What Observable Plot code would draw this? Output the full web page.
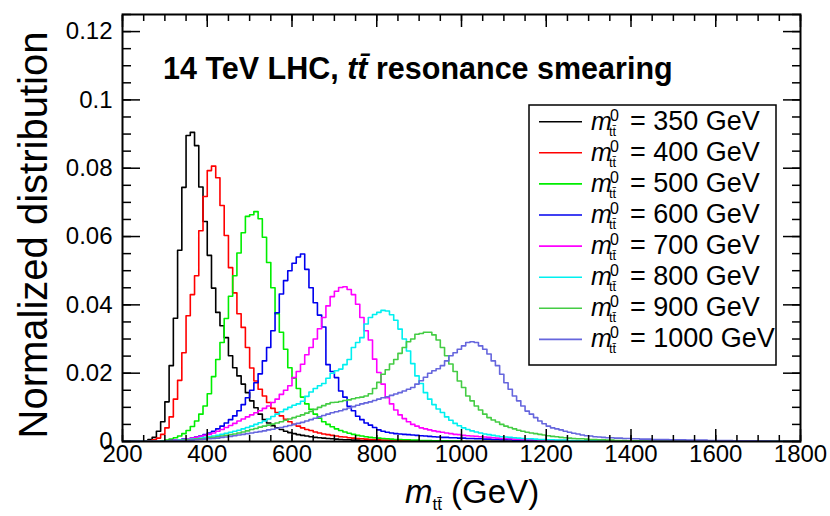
<!DOCTYPE html>
<html><head><meta charset="utf-8">
<script src="https://cdn.jsdelivr.net/npm/d3@7"></script>
<script src="https://cdn.jsdelivr.net/npm/@observablehq/plot@0.6"></script>
<style>
body{margin:0;background:#fff;}
#chart{width:830px;height:516px;}
</style></head><body><div id="chart"></div>
<script>
// ---- data: normalized histograms, 10 GeV bins, values per bin starting at startXXX ----
const binWidth = 10;
const masses = [350, 400, 500, 600, 700, 800, 900, 1000];
const colors = ["#000000", "#ff0000", "#00ee00", "#0000ee", "#ff00ff", "#00f0f0", "#44cc44", "#6666dd"];
const xTicks = [200, 400, 600, 800, 1000, 1200, 1400, 1600, 1800];
const yTicks = [0, 0.02, 0.04, 0.06, 0.08, 0.1, 0.12];
const yTickLabels = ["0", "0.02", "0.04", "0.06", "0.08", "0.1", "0.12"];

const start350 = 250;
const h350 = [0.0002,0.0006,0.0012,0.0030,0.0058,0.0116,0.0222,0.0361,0.0560,0.0744,
  0.0896,0.0905,0.0866,0.0745,0.0644,0.0545,0.0449,0.0378,0.0339,0.0304,
  0.0251,0.0216,0.0192,0.0168,0.0143,0.0119,0.0099,0.0080,0.0064,0.0054,
  0.0046,0.0040,0.0035,0.0030,0.0026,0.0023,0.0020,0.0018,0.0016,0.0014,
  0.0012,0.0011,0.0010,0.0009,0.0008,0.0007,0.0006,0.0005,0.0005,0.0004,
  0.0004,0.0003,0.0003,0.0003,0.0002,0.0002,0.0002,0.0001,0.0001,0.0001];

const start400 = 260;
const h400 = [0.0002,0.0005,0.0010,0.0021,0.0040,0.0072,0.0124,0.0179,0.0260,0.0368,
  0.0430,0.0485,0.0617,0.0717,0.0793,0.0806,0.0772,0.0691,0.0603,0.0509,
  0.0435,0.0374,0.0334,0.0275,0.0215,0.0177,0.0153,0.0133,0.0114,0.0097,
  0.0085,0.0075,0.0065,0.0058,0.0050,0.0045,0.0040,0.0035,0.0032,0.0028,
  0.0025,0.0022,0.0020,0.0018,0.0016,0.0014,0.0013,0.0011,0.0010,0.0009,
  0.0008,0.0007,0.0006,0.0006,0.0005,0.0004,0.0004,0.0003,0.0003,0.0003,
  0.0002,0.0002,0.0002,0.0001,0.0001];

const start500 = 290;
const h500 = [0.0002,0.0004,0.0007,0.0011,0.0016,0.0023,0.0032,0.0044,0.0060,0.0080,
  0.0104,0.0140,0.0190,0.0240,0.0290,0.0360,0.0425,0.0485,0.0552,0.0611,
  0.0659,0.0664,0.0673,0.0652,0.0598,0.0524,0.0450,0.0374,0.0320,0.0270,
  0.0216,0.0185,0.0155,0.0130,0.0110,0.0094,0.0080,0.0068,0.0058,0.0050,
  0.0043,0.0037,0.0032,0.0028,0.0024,0.0021,0.0018,0.0016,0.0014,0.0012,
  0.0011,0.0010,0.0009,0.0008,0.0007,0.0006,0.0006,0.0005,0.0005,0.0004,
  0.0004,0.0003,0.0003,0.0003,0.0002,0.0002,0.0002,0.0002,0.0001,0.0001,0.0001];

const start600 = 300;
const h600 = [0.0002,0.0003,0.0004,0.0005,0.0007,0.0008,0.0010,0.0013,0.0016,0.0020,
  0.0025,0.0030,0.0037,0.0045,0.0054,0.0064,0.0075,0.0090,0.0108,0.0128,
  0.0150,0.0172,0.0198,0.0236,0.0275,0.0324,0.0377,0.0432,0.0471,0.0500,
  0.0522,0.0540,0.0549,0.0504,0.0450,0.0406,0.0370,0.0335,0.0225,0.0205,
  0.0187,0.0148,0.0130,0.0103,0.0090,0.0074,0.0064,0.0054,0.0048,0.0041,
  0.0034,0.0030,0.0027,0.0025,0.0023,0.0022,0.0021,0.0020,0.0019,0.0018,
  0.0017,0.0016,0.0015,0.0014,0.0013,0.0012,0.0012,0.0011,0.0011,0.0010,
  0.0010,0.0009,0.0009,0.0008,0.0008,0.0007,0.0007,0.0006,0.0006,0.0005,
  0.0005,0.0005,0.0004,0.0004,0.0004,0.0003,0.0003,0.0003,0.0002,0.0002];

const start700 = 300;
const h700 = [0.0002,0.0003,0.0004,0.0005,0.0006,0.0008,0.0010,0.0012,0.0015,0.0018,
  0.0021,0.0025,0.0030,0.0035,0.0041,0.0047,0.0053,0.0060,0.0066,0.0072,
  0.0078,0.0084,0.0090,0.0097,0.0104,0.0114,0.0124,0.0138,0.0150,0.0163,
  0.0187,0.0205,0.0226,0.0254,0.0275,0.0300,0.0330,0.0363,0.0397,0.0424,
  0.0440,0.0451,0.0453,0.0445,0.0430,0.0402,0.0363,0.0324,0.0297,0.0241,
  0.0202,0.0168,0.0128,0.0110,0.0092,0.0078,0.0067,0.0058,0.0050,0.0045,
  0.0040,0.0037,0.0034,0.0031,0.0029,0.0027,0.0025,0.0023,0.0021,0.0020,
  0.0018,0.0017,0.0016,0.0015,0.0014,0.0013,0.0012,0.0011,0.0010,0.0009,
  0.0009,0.0008,0.0007,0.0007,0.0006,0.0006,0.0005,0.0005,0.0004,0.0004,
  0.0004,0.0003,0.0003,0.0003,0.0003,0.0002,0.0002,0.0002,0.0002,0.0001];

const start800 = 300;
const h800 = [0.0002,0.0002,0.0003,0.0004,0.0005,0.0006,0.0007,0.0008,0.0010,0.0012,
  0.0014,0.0016,0.0018,0.0021,0.0024,0.0027,0.0030,0.0033,0.0037,0.0041,
  0.0045,0.0050,0.0055,0.0060,0.0066,0.0073,0.0080,0.0087,0.0094,0.0100,
  0.0106,0.0110,0.0118,0.0132,0.0145,0.0155,0.0163,0.0170,0.0185,0.0200,
  0.0207,0.0212,0.0225,0.0240,0.0275,0.0290,0.0304,0.0344,0.0363,0.0372,
  0.0378,0.0384,0.0382,0.0371,0.0355,0.0329,0.0300,0.0265,0.0228,0.0192,
  0.0170,0.0143,0.0124,0.0108,0.0095,0.0085,0.0072,0.0062,0.0053,0.0046,
  0.0040,0.0035,0.0031,0.0028,0.0025,0.0022,0.0020,0.0018,0.0016,0.0014,
  0.0013,0.0012,0.0011,0.0010,0.0009,0.0008,0.0008,0.0007,0.0006,0.0006,
  0.0005,0.0005,0.0004,0.0004,0.0004,0.0003,0.0003,0.0003,0.0002,0.0002,
  0.0002,0.0002,0.0001,0.0001];

const start900 = 300;
const h900 = [0.0001,0.0002,0.0002,0.0003,0.0004,0.0005,0.0006,0.0007,0.0008,0.0009,
  0.0011,0.0012,0.0014,0.0016,0.0018,0.0020,0.0022,0.0025,0.0028,0.0031,
  0.0035,0.0038,0.0042,0.0045,0.0048,0.0051,0.0054,0.0058,0.0062,0.0066,
  0.0070,0.0074,0.0078,0.0083,0.0088,0.0094,0.0100,0.0105,0.0110,0.0114,
  0.0115,0.0117,0.0120,0.0122,0.0125,0.0128,0.0130,0.0133,0.0140,0.0155,
  0.0173,0.0197,0.0210,0.0227,0.0240,0.0258,0.0275,0.0292,0.0300,0.0314,
  0.0316,0.0320,0.0320,0.0312,0.0297,0.0275,0.0251,0.0227,0.0205,0.0177,
  0.0158,0.0133,0.0119,0.0104,0.0092,0.0080,0.0070,0.0063,0.0057,0.0050,
  0.0045,0.0041,0.0037,0.0033,0.0030,0.0027,0.0025,0.0023,0.0021,0.0019,
  0.0017,0.0015,0.0014,0.0012,0.0011,0.0010,0.0009,0.0008,0.0008,0.0007,
  0.0006,0.0006,0.0005,0.0005,0.0004,0.0004,0.0003,0.0003,0.0003,0.0002,
  0.0002,0.0002,0.0001,0.0001];

const start1000 = 300;
const h1000 = [0.0001,0.0001,0.0002,0.0002,0.0003,0.0003,0.0004,0.0005,0.0006,0.0007,
  0.0008,0.0009,0.0010,0.0012,0.0013,0.0015,0.0017,0.0019,0.0021,0.0023,
  0.0025,0.0027,0.0029,0.0031,0.0034,0.0036,0.0039,0.0041,0.0044,0.0047,
  0.0050,0.0053,0.0056,0.0060,0.0064,0.0068,0.0072,0.0076,0.0080,0.0084,
  0.0087,0.0090,0.0094,0.0098,0.0102,0.0106,0.0110,0.0113,0.0116,0.0120,
  0.0124,0.0128,0.0131,0.0135,0.0139,0.0143,0.0148,0.0153,0.0158,0.0168,
  0.0178,0.0188,0.0200,0.0207,0.0213,0.0222,0.0236,0.0251,0.0260,0.0270,
  0.0280,0.0290,0.0292,0.0290,0.0280,0.0270,0.0256,0.0236,0.0222,0.0197,
  0.0172,0.0153,0.0133,0.0119,0.0104,0.0089,0.0080,0.0070,0.0060,0.0052,
  0.0045,0.0040,0.0037,0.0034,0.0030,0.0027,0.0024,0.0022,0.0019,0.0017,
  0.0016,0.0014,0.0013,0.0012,0.0011,0.0011,0.0010,0.0010,0.0009,0.0009,
  0.0008,0.0008,0.0007,0.0007,0.0007,0.0006,0.0006,0.0006,0.0006,0.0005,
  0.0005,0.0005,0.0005,0.0004,0.0004,0.0004,0.0004,0.0004,0.0003,0.0003,
  0.0003,0.0003,0.0003,0.0003,0.0002,0.0002,0.0002,0.0002,0.0002,0.0002,
  0.0001,0.0001,0.0001];

const series = [
  {mass: 350, start: start350, values: h350},
  {mass: 400, start: start400, values: h400},
  {mass: 500, start: start500, values: h500},
  {mass: 600, start: start600, values: h600},
  {mass: 700, start: start700, values: h700},
  {mass: 800, start: start800, values: h800},
  {mass: 900, start: start900, values: h900},
  {mass: 1000, start: start1000, values: h1000}
];

// build step rows across the full axis range
const xMin = 200, xMax = 1800;
const rows = [];
for (const s of series) {
  for (let x = xMin; x < xMax; x += binWidth) {
    const i = Math.round((x - s.start) / binWidth);
    const v = (i >= 0 && i < s.values.length) ? s.values[i] : 0;
    rows.push({mass: s.mass, x, v});
  }
  rows.push({mass: s.mass, x: xMax, v: 0});
}

const xMinor = d3.range(xMin, xMax + 1, 50);
const yMinor = d3.range(0, 0.1251, 0.005);
const font = "'Liberation Sans', Arial, Helvetica, sans-serif";
const blank = () => "";

const plot = Plot.plot({
  width: 830, height: 516,
  marginLeft: 122, marginRight: 30, marginTop: 14, marginBottom: 75,
  x: {domain: [xMin, xMax]},
  y: {domain: [0, 0.125]},
  color: {domain: masses, range: colors},
  style: {fontFamily: font, fontSize: "24px", color: "#000", background: "#fff", overflow: "visible"},
  marks: [
    Plot.line(rows, {x: "x", y: "v", z: "mass", stroke: "mass", curve: "step-after", strokeWidth: 1.6, clip: true}),
    // bottom / top x ticks (inward)
    Plot.axisX({anchor: "bottom", ticks: xMinor, tickSize: -6, tickFormat: blank, label: null, strokeWidth: 1.5}),
    Plot.axisX({anchor: "bottom", ticks: xTicks, tickSize: -12, tickFormat: blank, label: null, strokeWidth: 1.5}),
    Plot.axisX({anchor: "top", ticks: xMinor, tickSize: -6, tickFormat: blank, label: null, strokeWidth: 1.5}),
    Plot.axisX({anchor: "top", ticks: xTicks, tickSize: -12, tickFormat: blank, label: null, strokeWidth: 1.5}),
    Plot.axisX({anchor: "bottom", ticks: xTicks, tickSize: 0, tickPadding: 3, tickFormat: d => String(d), label: null, fontSize: 24}),
    // left / right y ticks (inward)
    Plot.axisY({anchor: "left", ticks: yMinor, tickSize: -9, tickFormat: blank, label: null, strokeWidth: 1.5}),
    Plot.axisY({anchor: "left", ticks: yTicks, tickSize: -18, tickFormat: blank, label: null, strokeWidth: 1.5}),
    Plot.axisY({anchor: "right", ticks: yMinor, tickSize: -9, tickFormat: blank, label: null, strokeWidth: 1.5}),
    Plot.axisY({anchor: "right", ticks: yTicks, tickSize: -18, tickFormat: blank, label: null, strokeWidth: 1.5}),
    Plot.axisY({anchor: "left", ticks: yTicks, tickSize: 0, tickPadding: 10, tickFormat: (d, i) => yTickLabels[i], label: null, fontSize: 24}),
    Plot.frame({stroke: "#000", strokeWidth: 2})
  ]
});

document.getElementById("chart").appendChild(plot);

// ---- text decorations added into the same SVG ----
const svg = d3.select(plot);
const g = svg.append("g").attr("font-family", font).attr("fill", "#000").attr("text-anchor", "start");

// title
const title = g.append("text").attr("x", 163).attr("y", 79).attr("font-size", 30.5).attr("font-weight", "bold");
title.append("tspan").text("14 TeV LHC, ");
title.append("tspan").attr("font-style", "italic").text("tt\u0304");
title.append("tspan").text(" resonance smearing");

// y label
g.append("text")
  .attr("transform", "translate(47,235) rotate(-90)")
  .attr("text-anchor", "middle")
  .attr("font-size", 40)
  .text("Normalized distribution");

// x label
const xl = g.append("text").attr("x", 405).attr("y", 503).attr("font-size", 33);
xl.append("tspan").attr("font-style", "italic").text("m");
xl.append("tspan").attr("font-size", 17).attr("dy", 7).text("tt\u0304");
xl.append("tspan").attr("dy", -7).text(" (GeV)");

// legend
const lg = g.append("g");
lg.append("rect").attr("x", 529).attr("y", 105).attr("width", 247).attr("height", 260)
  .attr("fill", "#fff").attr("stroke", "#000").attr("stroke-width", 1.5);
masses.forEach((m, i) => {
  const cy = 121.7 + i * 31.1;
  lg.append("line").attr("x1", 539).attr("x2", 582).attr("y1", cy).attr("y2", cy)
    .attr("stroke", colors[i]).attr("stroke-width", 1.6);
  const t = lg.append("text").attr("y", cy + 8).attr("font-size", 27);
  t.append("tspan").attr("x", 591).attr("font-style", "italic").attr("font-size", 25).text("m");
  t.append("tspan").attr("x", 610).attr("dy", -9).attr("font-size", 16).text("0");
  t.append("tspan").attr("x", 609).attr("dy", 15).attr("font-size", 13).text("tt\u0304");
  t.append("tspan").attr("x", 630).attr("dy", -6).text("= " + m + " GeV");
});
</script>
</body></html>
